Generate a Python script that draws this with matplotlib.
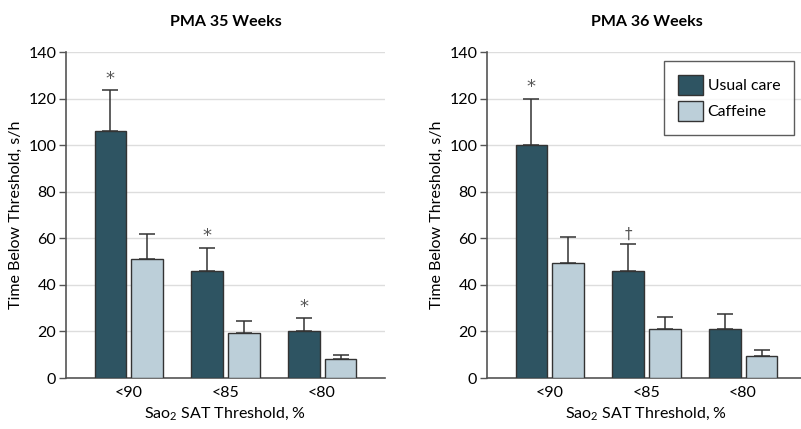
import matplotlib
matplotlib.use("Agg")
import matplotlib.pyplot as plt
import numpy as np
from matplotlib.patches import Patch

plt.rcParams['font.family'] = ['Lato', 'DejaVu Sans']
plt.rcParams['mathtext.fontset'] = 'custom'
plt.rcParams['mathtext.rm'] = 'Lato'

categories = ["<90", "<85", "<80"]
yticks = [0, 20, 40, 60, 80, 100, 120, 140]

# PMA 35 weeks
usual_35 = [106, 45.8, 20]
usual_35_err = [17.5, 10.2, 5.7]
caff_35 = [51, 19.3, 8]
caff_35_err = [11, 5, 2]
marks_35 = ["*", "*", "*"]

# PMA 36 weeks
usual_36 = [100, 46, 21]
usual_36_err = [20, 11.5, 6.3]
caff_36 = [49.5, 21, 9.5]
caff_36_err = [11.2, 5.3, 2.5]
marks_36 = ["*", "\u2020", ""]

titles = ["PMA 35 Weeks", "PMA 36 Weeks"]

dark = "#2e5462"
light = "#bccfd9"
edge = "#333333"

fig = plt.figure(figsize=(8.01, 4.29), dpi=100)
W, H = 801, 429
ax1 = fig.add_axes([66 / W, 51 / H, 319 / W, 326 / H])
ax2 = fig.add_axes([487 / W, 51 / H, 319 / W, 326 / H])

x = np.arange(len(categories))
bw = 0.326
off = 0.19

panels = [
    (ax1, usual_35, usual_35_err, caff_35, caff_35_err, marks_35, titles[0]),
    (ax2, usual_36, usual_36_err, caff_36, caff_36_err, marks_36, titles[1]),
]

for ax, u, ue, c, ce, marks, title in panels:
    ax.set_ylim(0, 140)
    ax.set_xlim(-0.65, 2.65)
    ax.set_yticks(yticks)
    ax.grid(axis='y', color='#dddddd', linewidth=1.0)
    ax.set_axisbelow(True)
    ekw = dict(elinewidth=1.1, ecolor=edge, capthick=1.1)
    ax.bar(x - off, u, bw, color=dark, edgecolor=edge, linewidth=1.0,
           yerr=[np.zeros(len(u)), ue], capsize=6, error_kw=ekw, zorder=3)
    ax.bar(x + off, c, bw, color=light, edgecolor=edge, linewidth=1.0,
           yerr=[np.zeros(len(c)), ce], capsize=6, error_kw=ekw, zorder=3)
    for i, m in enumerate(marks):
        if m == "*":
            ax.text(x[i] - off, u[i] + ue[i] + 1.0, m, ha='center', va='bottom',
                    fontsize=13, color='#555555', family='DejaVu Sans')
        elif m:
            ax.text(x[i] - off, u[i] + ue[i] + 0.8, m, ha='center', va='bottom',
                    fontsize=11, color='#555555', family='DejaVu Sans')
    ax.set_xticks(x)
    ax.set_xticklabels(categories, fontsize=11.5)
    ax.tick_params(axis='x', length=0, pad=6)
    ax.tick_params(axis='y', length=5, width=1, color='#555555', labelsize=11.5, pad=2)
    for s in ['top', 'right']:
        ax.spines[s].set_visible(False)
    for s in ['left', 'bottom']:
        ax.spines[s].set_color('#555555')
        ax.spines[s].set_linewidth(1.2)
    ax.set_ylabel("Time Below Threshold, s/h", fontsize=11.5, labelpad=4)
    ax.set_xlabel("Sao$_2$ SAT Threshold, %", fontsize=11.5, labelpad=4)
    ax.set_title(title, fontsize=11.5, fontweight='bold', pad=19)

handles = [Patch(facecolor=dark, edgecolor=edge, label="Usual care"),
           Patch(facecolor=light, edgecolor=edge, label="Caffeine")]
leg = ax2.legend(handles=handles, loc='upper left', bbox_to_anchor=(0.555, 0.972),
                 fontsize=11.4, frameon=True, fancybox=False, handlelength=1.55,
                 handleheight=1.55, borderpad=0.9, labelspacing=0.35, handletextpad=0.3,
                 borderaxespad=0)
leg.get_frame().set_edgecolor('#333333')
leg.get_frame().set_linewidth(1.0)

fig.savefig("out.png", dpi=100)
